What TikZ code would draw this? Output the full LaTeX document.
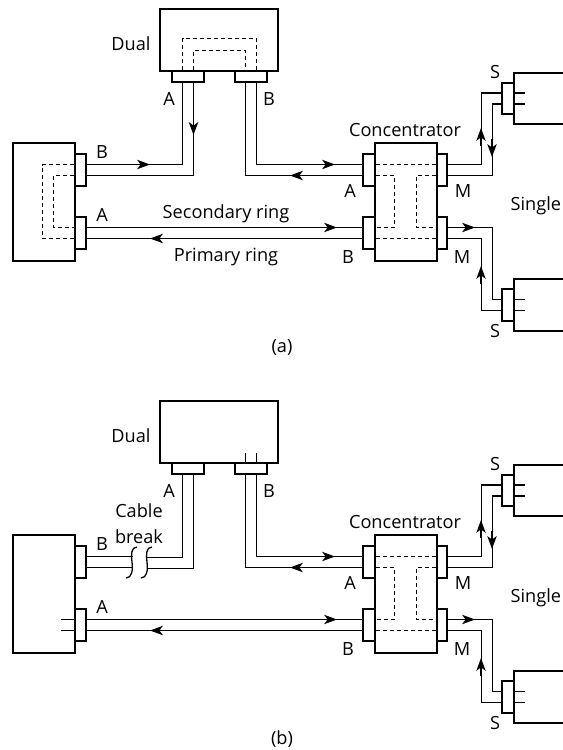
\documentclass[tikz,border=0pt]{standalone}
\usepackage{fontspec}
\setmainfont{Open Sans}
\usetikzlibrary{arrows.meta}
\def\off{0.165cm}
\def\rbox#1#2#3#4#5{\node[draw, inner sep=0pt, minimum width={(#4-#2)*0.03cm}, minimum height={(#5-#3)*0.03cm}] (#1) at ({(#2+#4)/2},{(#3+#5)/2}) {};}
\tikzset{lbl/.style={anchor=base, inner sep=0pt},
  ring/.style={line width=0.9pt, dash pattern=on 3.5pt off 2.5pt}}
\begin{document}
\begin{tikzpicture}[x=0.03cm, y=-0.03cm, line width=1.1pt, >={Stealth[length=11pt,width=8pt,inset=3pt]}, font=\fontsize{15.5}{18}\selectfont]
\useasboundingbox (0,0) rectangle (563,750);
\clip (0,0) rectangle (563,750);
\foreach \o/\p in {0/a,392/b}{
\begin{scope}[shift={(0,\o)}]
% stations and ports
\rbox{dual\p}{160}{9}{278}{71}
\rbox{dA\p}{172}{71}{204}{82}
\rbox{dB\p}{235}{71}{267}{82}
\rbox{left\p}{13}{143}{75}{261}
\rbox{lB\p}{75}{154}{86}{186}
\rbox{lA\p}{75}{217}{86}{249}
\rbox{conc\p}{375}{143}{437}{261}
\rbox{cA\p}{363}{154}{375}{186}
\rbox{cB\p}{363}{217}{375}{249}
\rbox{cM\p}{437}{154}{447}{186}
\rbox{cN\p}{437}{217}{447}{249}
\rbox{sgA\p}{514}{73}{600}{124}
\rbox{sA\p}{502}{83}{514}{114}
\rbox{sgB\p}{514}{279}{600}{331}
\rbox{sB\p}{502}{289}{514}{321}
\draw ([yshift=\off]sA\p.east) -- ++(10,0) ([yshift=-\off]sA\p.east) -- ++(10,0)
  ([yshift=\off]sB\p.east) -- ++(10,0) ([yshift=-\off]sB\p.east) -- ++(10,0);
% cables
\draw ([xshift=\off]dB\p.south) |- ([yshift=\off]cA\p.west);
\draw ([xshift=-\off]dB\p.south) |- ([yshift=-\off]cA\p.west);
\draw ([yshift=\off]lA\p.east) -- ([yshift=\off]cB\p.west);
\draw ([yshift=-\off]lA\p.east) -- ([yshift=-\off]cB\p.west);
\draw ([yshift=\off]cM\p.east) -- ++(34,0) |- ([yshift=\off]sA\p.west);
\draw ([yshift=-\off]cM\p.east) -- ++(45,0) |- ([yshift=-\off]sA\p.west);
\draw ([yshift=\off]cN\p.east) -- ++(45,0) |- ([yshift=\off]sB\p.west);
\draw ([yshift=-\off]cN\p.east) -- ++(34,0) |- ([yshift=-\off]sB\p.west);
\draw[ring] ([yshift=\off]cA\p.east) -- ([yshift=\off]cM\p.west)
  ([yshift=-\off]cA\p.east) -- ++(19,0) |- ([yshift=\off]cB\p.east)
  ([yshift=-\off]cM\p.west) -- ++(-20,0) |- ([yshift=\off]cN\p.west)
  ([yshift=-\off]cB\p.east) -- ([yshift=-\off]cN\p.west);
\foreach \x/\y/\u/\v in {335/164.5/-18/0, 290/175.5/18/0, 337/227.5/-18/0, 150/238.5/18/0,
  481/128/0/18, 492/157/0/-18, 475/227.5/-18/0, 481/266/0/18}
  \draw[<-] (\x,\y) -- ++(\u,\v);
% labels
\node[lbl] at (131,50) {Dual};
\node[lbl] at (169,105) {A}; \node[lbl] at (269,105) {B};
\node[lbl] at (102,158) {B}; \node[lbl] at (102,221) {A};
\node[lbl] at (405,136) {Concentrator};
\node[lbl] at (350,197) {A}; \node[lbl] at (463,197) {M};
\node[lbl] at (348,263) {B}; \node[lbl] at (462,263) {M};
\node[lbl] at (495,78) {S}; \node[lbl] at (495,337) {S};
\node[lbl, anchor=base west] at (510,210) {Single};
\node[lbl] at (282,352) {(\p)};
\end{scope}}
% (a) ring wrapped in the stations
\draw[ring] ([xshift=-\off]dAa.north) -- ++(0,-32) -| ([xshift=\off]dBa.north)
  ([xshift=\off]dAa.north) -- ++(0,-20) -| ([xshift=-\off]dBa.north);
\draw[ring] ([yshift=\off]lBa.west) -- ++(-32,0) |- ([yshift=-\off]lAa.west)
  ([yshift=-\off]lBa.west) -- ++(-21,0) |- ([yshift=\off]lAa.west);
\draw ([xshift=-\off]dAa.south) |- ([yshift=\off]lBa.east);
\draw ([xshift=\off]dAa.south) |- ([yshift=-\off]lBa.east);
\draw[<-] (150,164.5) -- ++(-18,0);
\draw[<-] (193.5,135) -- ++(0,-18);
\node[lbl] at (226,218) {Secondary ring};
\node[lbl] at (226,261) {Primary ring};
% (b) cable break
\draw ([xshift=-\off]dBb.north) -- ++(0,-9) ([xshift=\off]dBb.north) -- ++(0,-9);
\draw ([yshift=\off]lAb.west) -- ++(-13,0) ([yshift=-\off]lAb.west) -- ++(-13,0);
\draw ([yshift=\off]lBb.east) -- ++(46,0) ([yshift=-\off]lBb.east) -- ++(46,0);
\draw ([xshift=-\off]dAb.south) |- ++(-35.5,82.5);
\draw ([xshift=\off]dAb.south) |- ++(-46.5,93.5);
\foreach \s in {0,15}
  \draw[shift={(\s,0)}] (137,547) .. controls (131,547) and (131,555) .. (132,562) .. controls (133,570) and (132,578) .. (126,578);
\node[lbl] at (139,517) {Cable};
\node[lbl] at (139,543) {break};
\end{tikzpicture}
\end{document}
